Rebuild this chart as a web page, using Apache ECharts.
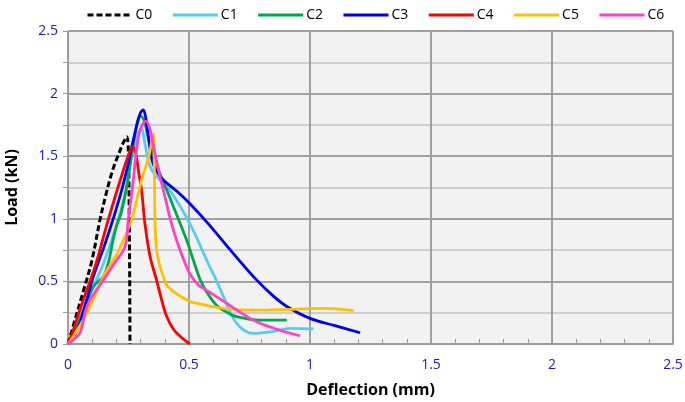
<!DOCTYPE html>
<html><head><meta charset="utf-8">
<script src="https://cdn.jsdelivr.net/npm/echarts@6/dist/echarts.min.js"></script>
<style>html,body{margin:0;padding:0;background:#fff}#c{width:685px;height:402px}</style>
</head><body><div id="c"></div>
<script>
const seriesNames = ['C0','C1','C2','C3','C4','C5','C6'];
const colors = ['#000000','#55CCF5','#00A650','#0000F0','#FF0000','#FFC000','#FF40C8'];
const xTicks = [0,0.5,1,1.5,2,2.5];
const yTicks = [0,0.5,1,1.5,2,2.5];

const C0 = [[0,0],[0.03,0.2],[0.06,0.4],[0.098,0.66],[0.132,0.99],[0.155,1.18],[0.174,1.32],[0.19,1.42],[0.21,1.52],[0.229,1.61],[0.243,1.656],[0.25,1.5],[0.253,1.0],[0.255,0.5],[0.256,0]];
const C1 = [[0,0],[0.025,0.1],[0.05,0.245],[0.105,0.46],[0.146,0.64],[0.194,0.91],[0.236,1.2],[0.263,1.5],[0.29,1.68],[0.303,1.72],[0.318,1.6],[0.332,1.46],[0.346,1.39],[0.37,1.33],[0.42,1.23],[0.504,0.96],[0.58,0.64],[0.615,0.5],[0.642,0.38],[0.697,0.165],[0.766,0.085],[0.848,0.1],[0.917,0.125],[1.014,0.12]];
const C2 = [[0,0],[0.036,0.14],[0.07,0.3],[0.105,0.46],[0.146,0.54],[0.167,0.65],[0.185,0.82],[0.2,0.94],[0.22,1.05],[0.243,1.26],[0.262,1.5],[0.277,1.68],[0.29,1.8],[0.3,1.82],[0.315,1.78],[0.335,1.62],[0.36,1.48],[0.38,1.36],[0.408,1.23],[0.435,1.1],[0.49,0.83],[0.545,0.52],[0.575,0.41],[0.614,0.31],[0.66,0.25],[0.697,0.218],[0.793,0.19],[0.904,0.19]];
const C3 = [[0,0],[0.03,0.08],[0.05,0.17],[0.077,0.35],[0.105,0.54],[0.153,0.8],[0.19,1.02],[0.222,1.23],[0.25,1.45],[0.27,1.63],[0.298,1.84],[0.311,1.87],[0.322,1.8],[0.336,1.6],[0.35,1.45],[0.37,1.37],[0.394,1.31],[0.45,1.22],[0.504,1.12],[0.58,0.96],[0.68,0.73],[0.78,0.51],[0.85,0.38],[0.904,0.3],[1.0,0.205],[1.096,0.15],[1.207,0.09]];
const C4 = [[0,0],[0.02,0.1],[0.05,0.28],[0.112,0.62],[0.16,0.95],[0.208,1.26],[0.25,1.51],[0.267,1.576],[0.28,1.52],[0.293,1.36],[0.304,1.23],[0.318,0.96],[0.339,0.7],[0.366,0.51],[0.39,0.33],[0.408,0.22],[0.435,0.12],[0.47,0.05],[0.504,0]];
const C5 = [[0,0],[0.022,0.06],[0.05,0.15],[0.077,0.245],[0.11,0.38],[0.146,0.54],[0.18,0.65],[0.208,0.74],[0.24,0.88],[0.263,0.99],[0.29,1.2],[0.31,1.35],[0.332,1.48],[0.353,1.68],[0.356,1.5],[0.358,1.2],[0.36,0.95],[0.366,0.75],[0.38,0.62],[0.394,0.54],[0.408,0.47],[0.449,0.4],[0.504,0.34],[0.545,0.32],[0.642,0.285],[0.78,0.27],[0.917,0.277],[1.055,0.285],[1.18,0.266]];
const C6 = [[0,0],[0.02,0.03],[0.05,0.09],[0.07,0.25],[0.09,0.35],[0.146,0.51],[0.19,0.64],[0.236,0.78],[0.249,0.99],[0.27,1.31],[0.283,1.55],[0.298,1.71],[0.322,1.78],[0.338,1.72],[0.353,1.58],[0.375,1.38],[0.394,1.23],[0.428,0.96],[0.463,0.75],[0.504,0.56],[0.54,0.47],[0.58,0.42],[0.656,0.325],[0.766,0.19],[0.876,0.11],[0.959,0.066]];
const allData = [C0,C1,C2,C3,C4,C5,C6];

const blue = '#1a1acd';
const chart = echarts.init(document.getElementById('c'), null, {renderer:'canvas'});
const series = seriesNames.map((n,i)=>({
  name:n, type:'line', data:allData[i], symbol:'none', smooth:0.35,
  lineStyle:{color:colors[i], width:i===0?3:2.8, type:i===0?[6,3]:'solid'},
  itemStyle:{color:colors[i]}, z: 10+i
}));
chart.setOption({
  animation:false,
  backgroundColor:'#ffffff',
  textStyle:{fontFamily:'Open Sans'},
  legend:{data:seriesNames, left:81, top:3, itemWidth:45, itemHeight:10, itemGap:19,
    itemStyle:{color:'rgba(0,0,0,0)', borderWidth:0, opacity:0},
    lineStyle:{width:3},
    textStyle:{fontSize:14, color:'#000', fontFamily:'Open Sans', padding:[0,0,0,-2]}},
  grid:{left:68, right:12, top:31, bottom:58, show:true, backgroundColor:'#f2f2f2', borderWidth:0, outerBoundsMode:'none', containLabel:false},
  xAxis:{type:'value', min:0, max:2.5, interval:0.5,
    name:'Deflection (mm)', nameLocation:'middle', nameGap:38,
    nameTextStyle:{fontSize:16, fontWeight:'bold', color:'#000'},
    axisLine:{show:true, lineStyle:{color:'#9a9a9a', width:2}},
    axisTick:{show:true, inside:true, length:5, lineStyle:{color:'#9a9a9a'}},
    minorTick:{show:true, splitNumber:5, length:5, lineStyle:{color:'#9a9a9a'}},
    axisLabel:{color:blue, fontSize:14, margin:14, formatter:v=>String(v)},
    splitLine:{show:true, lineStyle:{color:'#a0a0a0', width:2}}
  },
  yAxis:{type:'value', min:0, max:2.5, interval:0.5,
    name:'Load (kN)', nameLocation:'middle', nameGap:48,
    nameTextStyle:{fontSize:16, fontWeight:'bold', color:'#000'},
    axisLine:{show:true, lineStyle:{color:'#9a9a9a', width:1}},
    axisTick:{show:true, inside:false, length:5, lineStyle:{color:'#9a9a9a'}},
    minorTick:{show:true, splitNumber:2, length:5, lineStyle:{color:'#9a9a9a'}},
    minorSplitLine:{show:true, lineStyle:{color:'#c4c4c4', width:1.5}},
    axisLabel:{color:blue, fontSize:14, margin:10, formatter:v=>String(v)},
    splitLine:{show:true, lineStyle:{color:'#a0a0a0', width:2}}
  },
  series:series
});
</script></body></html>
